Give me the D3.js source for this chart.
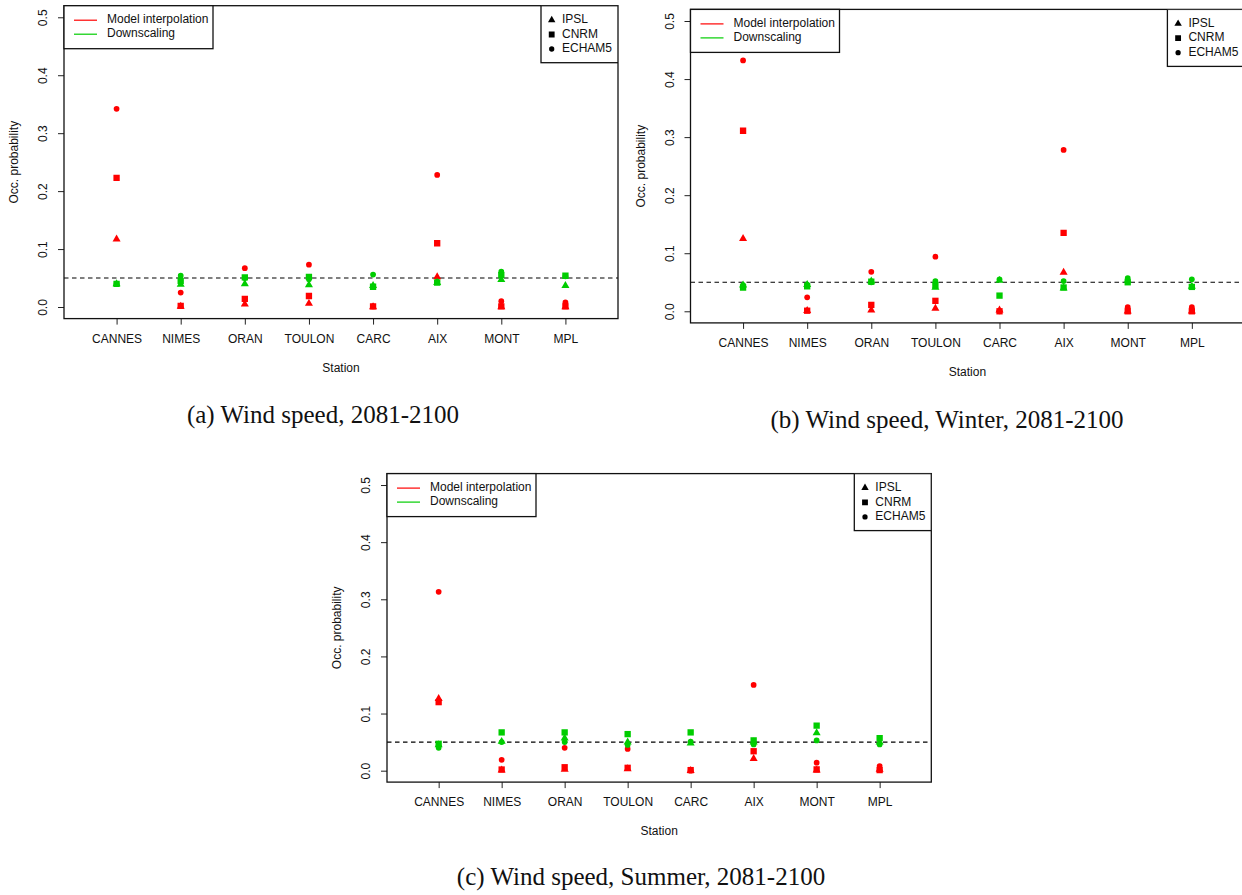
<!DOCTYPE html>
<html>
<head>
<meta charset="utf-8">
<script src="https://cdn.jsdelivr.net/npm/d3@7"></script>
<style>
  html, body { margin: 0; padding: 0; background: #fff; }
  svg { display: block; }
  text { font-family: "Liberation Sans", Arial, Helvetica, sans-serif; fill: #111; }
  .caption { font-family: "Liberation Serif", "Times New Roman", serif; }
</style>
</head>
<body>
<svg id="chart" width="1242" height="895"></svg>
<script>
// ---------------- data ----------------
const stations = ["CANNES", "NIMES", "ORAN", "TOULON", "CARC", "AIX", "MONT", "MPL"];
const models = ["IPSL", "CNRM", "ECHAM5"];
const methods = ["Model interpolation", "Downscaling"];
const yTicks = [0.0, 0.1, 0.2, 0.3, 0.4, 0.5];
const threshold = 0.05;

// (a) Wind speed, 2081-2100
const a_interp_IPSL   = [0.117, 0.001, 0.005, 0.006, 0.000, 0.052, 0.000, 0.000];
const a_interp_CNRM   = [0.223, 0.002, 0.014, 0.019, 0.001, 0.110, 0.001, 0.001];
const a_interp_ECHAM5 = [0.342, 0.025, 0.067, 0.073, 0.001, 0.228, 0.010, 0.008];
const a_down_IPSL     = [0.040, 0.039, 0.040, 0.038, 0.037, 0.042, 0.047, 0.037];
const a_down_CNRM     = [0.040, 0.045, 0.051, 0.052, 0.035, 0.042, 0.055, 0.054];
const a_down_ECHAM5   = [0.040, 0.054, 0.050, 0.048, 0.056, 0.044, 0.061, 0.053];

// (b) Wind speed, Winter, 2081-2100
const b_interp_IPSL   = [0.125, 0.001, 0.002, 0.005, 0.002, 0.067, 0.000, 0.000];
const b_interp_CNRM   = [0.311, 0.001, 0.011, 0.018, 0.000, 0.135, 0.000, 0.000];
const b_interp_ECHAM5 = [0.432, 0.024, 0.068, 0.094, 0.000, 0.278, 0.007, 0.007];
const b_down_IPSL     = [0.045, 0.046, 0.052, 0.041, 0.053, 0.040, 0.053, 0.043];
const b_down_CNRM     = [0.041, 0.043, 0.051, 0.045, 0.027, 0.041, 0.050, 0.042];
const b_down_ECHAM5   = [0.045, 0.046, 0.050, 0.052, 0.055, 0.052, 0.057, 0.055];

// (c) Wind speed, Summer, 2081-2100
const c_interp_IPSL   = [0.126, 0.001, 0.002, 0.003, 0.000, 0.021, 0.001, 0.002];
const c_interp_CNRM   = [0.120, 0.002, 0.006, 0.005, 0.001, 0.034, 0.002, 0.001];
const c_interp_ECHAM5 = [0.313, 0.019, 0.040, 0.038, 0.000, 0.150, 0.014, 0.008];
const c_down_IPSL     = [0.045, 0.051, 0.057, 0.050, 0.048, 0.050, 0.066, 0.050];
const c_down_CNRM     = [0.047, 0.067, 0.067, 0.064, 0.067, 0.053, 0.079, 0.057];
const c_down_ECHAM5   = [0.040, 0.050, 0.050, 0.045, 0.051, 0.046, 0.053, 0.046];

const captions = [
  "(a) Wind speed, 2081-2100",
  "(b) Wind speed, Winter, 2081-2100",
  "(c) Wind speed, Summer, 2081-2100"
];

// ---------------- layout / style ----------------
const methodColor = { "Model interpolation": "#ff0000", "Downscaling": "#00cd00" };
const modelSymbol = { "IPSL": d3.symbolTriangle, "CNRM": d3.symbolSquare, "ECHAM5": d3.symbolCircle };
const modelSize = { "IPSL": 28, "CNRM": 40, "ECHAM5": 26 };

const panels = [
  { left: 64,    right: 618,    top: 5.7,   bottom: 318.6, capX: 323, capY: 417,
    series: [a_interp_IPSL, a_interp_CNRM, a_interp_ECHAM5, a_down_IPSL, a_down_CNRM, a_down_ECHAM5] },
  { left: 690.5, right: 1244.4, top: 9.4,   bottom: 322.9, capX: 947, capY: 422,
    series: [b_interp_IPSL, b_interp_CNRM, b_interp_ECHAM5, b_down_IPSL, b_down_CNRM, b_down_ECHAM5] },
  { left: 387,   right: 931.3,  top: 473.6, bottom: 782.1, capX: 641, capY: 879,
    series: [c_interp_IPSL, c_interp_CNRM, c_interp_ECHAM5, c_down_IPSL, c_down_CNRM, c_down_ECHAM5] }
];

const svg = d3.select("#chart");

panels.forEach((p, pi) => {
  const g = svg.append("g");
  // R-style: xlim c(0.5, 8.5), ylim c(0, 0.5), both extended by 4%
  const x = d3.scaleLinear().domain([0.18, 8.82]).range([p.left, p.right]);
  const y = d3.scaleLinear().domain([-0.02, 0.52]).range([p.bottom, p.top]);

  const clipId = "clip" + pi;
  svg.append("clipPath").attr("id", clipId)
    .append("rect").attr("x", p.left).attr("y", p.top)
    .attr("width", p.right - p.left).attr("height", p.bottom - p.top);

  // y axis
  const yAxis = d3.axisLeft(y).tickValues(yTicks).tickSize(6).tickFormat(d3.format(".1f"));
  const ya = g.append("g").attr("transform", `translate(${p.left},0)`).call(yAxis);
  ya.select(".domain").remove();
  ya.selectAll(".tick line").attr("stroke", "#222").attr("stroke-width", 1);
  ya.selectAll(".tick text")
    .attr("x", 0).attr("dy", null)
    .attr("transform", d => `translate(-20,0) rotate(-90)`)
    .attr("text-anchor", "middle")
    .attr("dominant-baseline", "middle")
    .style("font-size", "12px").style("font-family", "Liberation Sans, Arial, sans-serif").attr("fill", "#111");

  // x axis
  const xAxis = d3.axisBottom(x).tickValues(d3.range(1, stations.length + 1)).tickSize(6)
    .tickFormat(i => stations[i - 1]);
  const xa = g.append("g").attr("transform", `translate(0,${p.bottom})`).call(xAxis);
  xa.select(".domain").remove();
  xa.selectAll(".tick line").attr("stroke", "#222").attr("stroke-width", 1);
  xa.selectAll(".tick text")
    .attr("y", 21).attr("dy", null)
    .attr("dominant-baseline", "middle")
    .style("font-size", "12px").style("font-family", "Liberation Sans, Arial, sans-serif").attr("fill", "#111");

  // axis titles
  g.append("text")
    .attr("transform", `translate(${p.left - 49},${(p.top + p.bottom) / 2}) rotate(-90)`)
    .attr("text-anchor", "middle").attr("dominant-baseline", "middle")
    .style("font-size", "12px").text("Occ. probability");
  g.append("text")
    .attr("x", (p.left + p.right) / 2).attr("y", p.bottom + 50)
    .attr("text-anchor", "middle").attr("dominant-baseline", "middle")
    .style("font-size", "12px").text("Station");

  const plot = g.append("g").attr("clip-path", `url(#${clipId})`);

  // threshold line
  plot.append("line")
    .attr("x1", p.left).attr("x2", p.right)
    .attr("y1", y(threshold)).attr("y2", y(threshold))
    .attr("stroke", "#000").attr("stroke-width", 1.1).attr("stroke-dasharray", "4.5,3.5");

  // points
  methods.forEach((meth, mi) => {
    models.forEach((mod, k) => {
      const vals = p.series[mi * 3 + k];
      const sym = d3.symbol().type(modelSymbol[mod]).size(modelSize[mod]);
      plot.selectAll(null).data(vals).enter().append("path")
        .attr("d", sym)
        .attr("transform", (v, i) => `translate(${x(i + 1)},${y(v)})`)
        .attr("fill", methodColor[meth]);
    });
  });

  // box
  g.append("rect")
    .attr("x", p.left).attr("y", p.top)
    .attr("width", p.right - p.left).attr("height", p.bottom - p.top)
    .attr("fill", "none").attr("stroke", "#111").attr("stroke-width", 1.3);

  // left legend (methods)
  const lg = g.append("g");
  lg.append("rect").attr("x", p.left).attr("y", p.top).attr("width", 149).attr("height", 43)
    .attr("fill", "#fff").attr("stroke", "#111").attr("stroke-width", 1.3);
  methods.forEach((meth, i) => {
    const yy = p.top + 14.5 + i * 14;
    lg.append("line").attr("x1", p.left + 10).attr("x2", p.left + 33)
      .attr("y1", yy).attr("y2", yy).attr("stroke", methodColor[meth]).attr("stroke-width", 1.2);
    lg.append("text").attr("x", p.left + 43).attr("y", yy).attr("dominant-baseline", "middle")
      .style("font-size", "12px").text(meth);
  });

  // right legend (models)
  const rg = g.append("g").attr("clip-path", `url(#${clipId})`);
  const rl = p.right - 77;
  rg.append("rect").attr("x", rl).attr("y", p.top).attr("width", 77).attr("height", 57)
    .attr("fill", "#fff").attr("stroke", "#111").attr("stroke-width", 1.3);
  models.forEach((mod, i) => {
    const yy = p.top + 14.3 + i * 14.5;
    rg.append("path").attr("d", d3.symbol().type(modelSymbol[mod]).size(modelSize[mod] * 0.85)())
      .attr("transform", `translate(${rl + 10.7},${yy})`).attr("fill", "#000");
    rg.append("text").attr("x", rl + 21).attr("y", yy).attr("dominant-baseline", "middle")
      .style("font-size", "12px").text(mod);
  });

  // caption
  svg.append("text").attr("class", "caption")
    .attr("x", p.capX).attr("y", p.capY).attr("text-anchor", "middle").attr("dominant-baseline", "middle")
    .style("font-size", "25px").style("font-family", "Liberation Serif, Times New Roman, serif")
    .text(captions[pi]);
});
</script>
</body>
</html>
